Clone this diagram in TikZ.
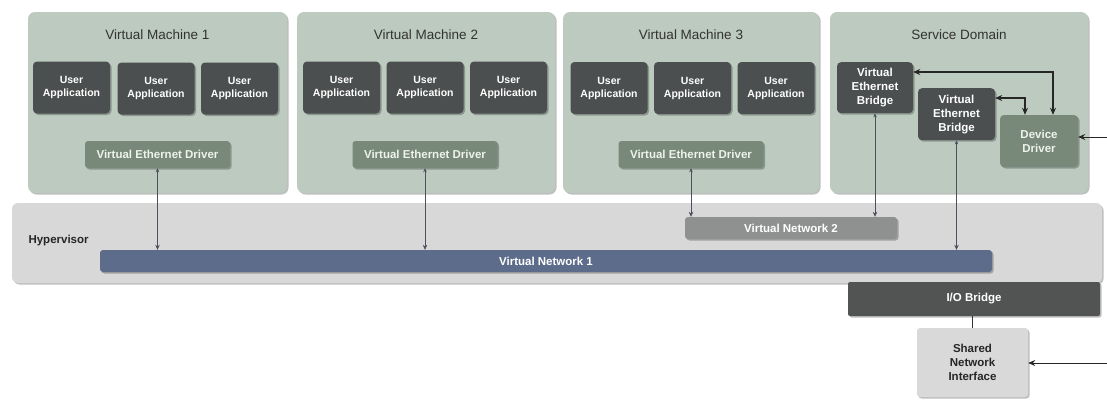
\documentclass[tikz,border=0pt]{standalone}
\usepackage{fontspec}
\setmainfont{Liberation Sans}
\usetikzlibrary{arrows.meta,shadows,calc}
\definecolor{vmfill}{HTML}{BCCABF}
\definecolor{appfill}{HTML}{4C4F4F}
\definecolor{drvfill}{HTML}{788979}
\definecolor{drvtext}{HTML}{EEF3EC}
\definecolor{hypfill}{HTML}{D8D8D8}
\definecolor{vnonefill}{HTML}{5D6C8A}
\definecolor{vntwofill}{HTML}{8F9191}
\definecolor{iofill}{HTML}{525454}
\definecolor{snifill}{HTML}{D9D9D9}
\definecolor{titletext}{HTML}{333333}
\definecolor{linkcol}{HTML}{4B505C}
\tikzset{
  softshadow/.style={drop shadow={shadow xshift=1.5pt,shadow yshift=-1.5pt,opacity=0.25,fill=black}},
  vmbox/.style={fill=vmfill,rounded corners=7pt,softshadow,inner sep=0pt},
  appbox/.style={fill=appfill,rounded corners=4pt,softshadow,minimum width=77pt,minimum height=52pt,
    text=white,font=\bfseries\fontsize{10.5}{13}\selectfont,align=center,inner sep=0pt},
  ethdrv/.style={fill=drvfill,rounded corners=3pt,softshadow,minimum width=145pt,minimum height=27pt,
    text=drvtext,font=\bfseries\fontsize{11.5}{14}\selectfont,inner sep=0pt},
  vmtitle/.style={text=titletext,font=\fontsize{13.5}{16}\selectfont},
  netbar/.style={rounded corners=3pt,softshadow,minimum height=22pt,inner sep=0pt,
    text=white,font=\bfseries\fontsize{11.5}{14}\selectfont},
  netlink/.style={draw=linkcol,line width=0.6pt,{Stealth[length=4pt,width=3.5pt]}-{Stealth[length=5pt,width=4.5pt]}},
  extlink/.style={draw=black!85,line width=1pt,-{Stealth[length=7pt,width=6pt]}},
  brlink/.style={draw=black!85,line width=1.4pt,{Stealth[length=7pt,width=6pt]}-{Stealth[length=7pt,width=6pt]}}
}
\begin{document}
\begin{tikzpicture}[x=1pt,y=-1pt]
\useasboundingbox (0,0) rectangle (1107,399);
\fill[white] (0,0) rectangle (1107,399);

% guest domains and service domain
\node[vmbox,minimum width=259pt,minimum height=181pt] (vm1) at (157.5,102.5) {};
\node[vmbox,minimum width=258pt,minimum height=181pt] (vm2) at (426,102.5) {};
\node[vmbox,minimum width=256pt,minimum height=181pt] (vm3) at (691,102.5) {};
\node[vmbox,minimum width=258pt,minimum height=181pt] (sd) at (959,102.5) {};
\node[vmtitle] (t1) at (157.5,35) {Virtual Machine 1};
\node[vmtitle] (t2) at (426,35) {Virtual Machine 2};
\node[vmtitle] (t3) at (691,35) {Virtual Machine 3};
\node[vmtitle] (t4) at (959,35) {Service Domain};

% user applications
\node[appbox] (a11) at (71.5,87.5) {User\\Application};
\node[appbox] (a12) at (156,88.5) {User\\Application};
\node[appbox] (a13) at (239.5,88.5) {User\\Application};
\node[appbox] (a21) at (341.5,87.5) {User\\Application};
\node[appbox] (a22) at (425,87.5) {User\\Application};
\node[appbox] (a23) at (508.5,87.5) {User\\Application};
\node[appbox] (a31) at (609,88) {User\\Application};
\node[appbox] (a32) at (692.5,88) {User\\Application};
\node[appbox] (a33) at (776,88) {User\\Application};

% virtual ethernet drivers
\node[ethdrv] (d1) at (157.5,154.5) {Virtual Ethernet Driver};
\node[ethdrv] (d2) at (425,154.5) {Virtual Ethernet Driver};
\node[ethdrv] (d3) at (691,154.5) {Virtual Ethernet Driver};

% service domain contents
\node[appbox,font=\bfseries\fontsize{11.5}{14}\selectfont,minimum width=76pt,minimum height=51pt,anchor=north] (veb1) at (875,62) {Virtual\\Ethernet\\Bridge};
\node[appbox,font=\bfseries\fontsize{11.5}{14}\selectfont,minimum width=77pt,minimum height=52pt,anchor=north] (veb2) at (956.5,88) {Virtual\\Ethernet\\Bridge};
\node[appbox,font=\bfseries\fontsize{11.5}{14}\selectfont,fill=drvfill,text=drvtext,minimum width=78pt,minimum height=52pt] (dd) at (1039,141) {Device\\Driver};

% hypervisor layer
\node[fill=hypfill,rounded corners=6pt,softshadow,minimum width=1090pt,minimum height=80pt,inner sep=0pt] (hyp) at (557,243) {};
\node[anchor=west,font=\bfseries\fontsize{11.5}{14}\selectfont,text=black!85] (hyplbl) at (25,241) {Hypervisor};
\node[netbar,fill=vnonefill,minimum width=892pt] (vn1) at (546,261) {Virtual Network 1};
\node[netbar,fill=vntwofill,minimum width=212pt] (vn2) at (791,228) {Virtual Network 2};

% physical side
\node[fill=iofill,rounded corners=2pt,softshadow,minimum width=252pt,minimum height=34pt,inner sep=0pt,
  text=white,font=\bfseries\fontsize{11.5}{14}\selectfont] (iob) at (974,299) {I/O Bridge};
\node[fill=snifill,rounded corners=3pt,softshadow,minimum width=111pt,minimum height=69pt,inner sep=0pt,
  align=center,text=black!85,font=\bfseries\fontsize{11.5}{14}\selectfont] (sni) at (972.5,362.5) {Shared\\Network\\Interface};

% connections to the virtual networks
\draw[netlink] (d1.south) -- (d1.south |- vn1.north);
\draw[netlink] (d2.south) -- (d2.south |- vn1.north);
\draw[netlink] (d3.south) -- (d3.south |- vn2.north);
\draw[netlink] (veb1.south) -- (veb1.south |- vn2.north);
\draw[netlink] (veb2.south) -- (veb2.south |- vn1.north);

% bridges to device driver
\coordinate (c1) at (1053,72);
\coordinate (c2) at (1025,98);
\draw[brlink] (veb1.east |- c1) -| (dd.north -| c1);
\draw[brlink] (veb2.east |- c2) -| (dd.north -| c2);

% I/O path
\draw[line width=1.4pt,draw=black!80] (sni.north) -- (sni.north |- iob.south);
\coordinate (e1) at (1107,137);
\coordinate (e2) at (1107,363);
\draw[extlink] (e1) -- (dd.east |- e1);
\draw[extlink] (e2) -- (sni.east |- e2);
\end{tikzpicture}
\end{document}
